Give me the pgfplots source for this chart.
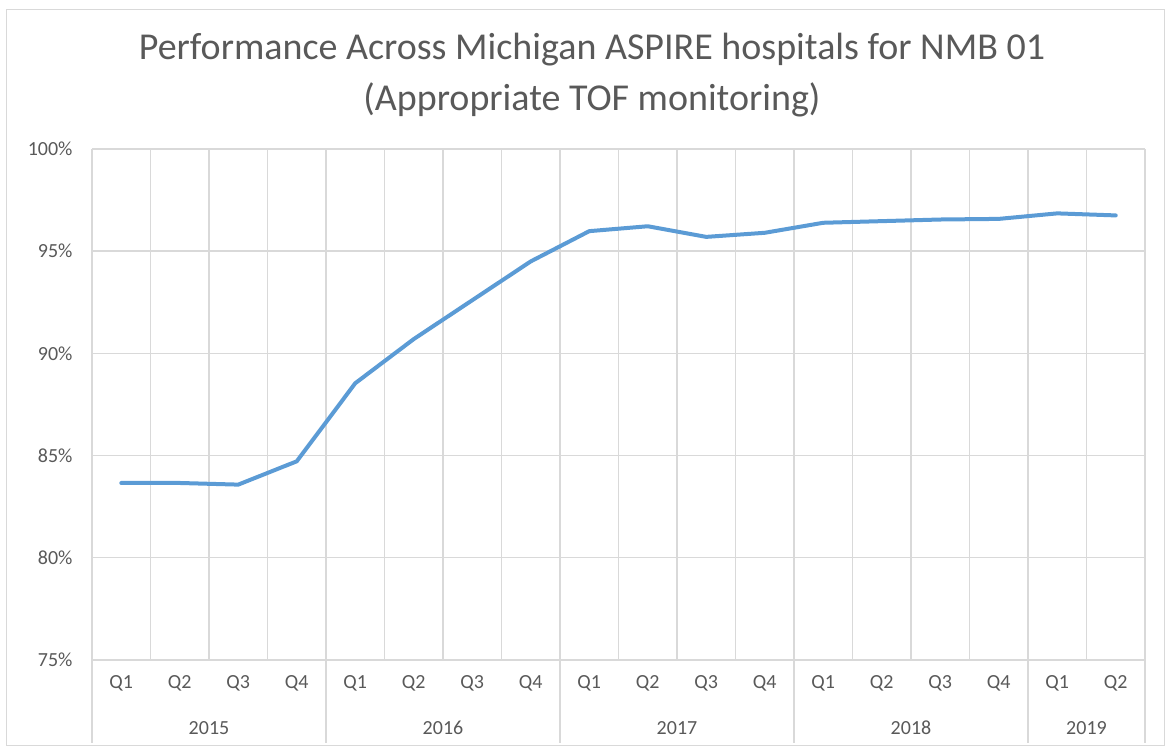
\documentclass[border=0pt]{standalone}
\usepackage{fontspec}
\setmainfont{Carlito}
\usepackage{pgfplots}
\pgfplotsset{compat=1.18}
\definecolor{txt}{HTML}{595959}
\definecolor{grd}{HTML}{D9D9D9}
\definecolor{ln}{HTML}{5B9BD5}
\begin{document}
\begin{tikzpicture}[x=1pt,y=1pt]
\path[use as bounding box] (0,0) rectangle (1170,751);
\draw[grd, line width=1pt] (6,5) rectangle (1164,741);
\node[txt, font=\fontsize{38}{44}\selectfont] at (592,701) {Performance Across Michigan ASPIRE hospitals for NMB 01};
\node[txt, font=\fontsize{38}{44}\selectfont] at (592,651) {(Appropriate TOF monitoring)};
\begin{axis}[
  at={(92pt,91pt)}, anchor=south west,
  scale only axis, width=1053pt, height=511pt,
  xmin=0, xmax=18, ymin=75, ymax=100,
  ytick={75,80,...,100},
  yticklabel={\pgfmathprintnumber{\tick}\%},
  /pgf/number format/assume math mode=true,
  xtick={0.5,1.5,...,17.5},
  xticklabels={Q1,Q2,Q3,Q4,Q1,Q2,Q3,Q4,Q1,Q2,Q3,Q4,Q1,Q2,Q3,Q4,Q1,Q2},
  minor xtick={0,1,...,18},
  xminorgrids=true, ymajorgrids=true, xmajorgrids=false,
  grid style={grd, line width=1.4pt},
  minor grid style={grd, line width=1.4pt},
  axis line style={draw=none},
  major tick style={draw=none}, minor tick style={draw=none},
  tick label style={txt, font=\fontsize{20}{24}\selectfont},
  yticklabel style={xshift=-16pt},
  xticklabel style={yshift=-12pt},
  clip=false,
]
\addplot[ln, line width=4pt, line join=round, line cap=round] coordinates {
(0.5,83.66) (1.5,83.66) (2.5,83.58) (3.5,84.72)
(4.5,88.54) (5.5,90.70) (6.5,92.60) (7.5,94.50)
(8.5,95.98) (9.5,96.22) (10.5,95.70) (11.5,95.90)
(12.5,96.39) (13.5,96.47) (14.5,96.55) (15.5,96.58)
(16.5,96.85) (17.5,96.75)};
\coordinate (s0) at (axis cs:0,75);
\coordinate (s4) at (axis cs:4,75);
\coordinate (s8) at (axis cs:8,75);
\coordinate (s12) at (axis cs:12,75);
\coordinate (s16) at (axis cs:16,75);
\coordinate (s18) at (axis cs:18,75);
\coordinate (y15) at (axis cs:2,75);
\coordinate (y16) at (axis cs:6,75);
\coordinate (y17) at (axis cs:10,75);
\coordinate (y18) at (axis cs:14,75);
\coordinate (y19) at (axis cs:17,75);
\end{axis}
\foreach \s in {s0,s4,s8,s12,s16,s18} {
  \draw[grd, line width=1.4pt] (\s) -- ++(0,-83);
}
\foreach \c/\t in {y15/2015,y16/2016,y17/2017,y18/2018,y19/2019} {
  \node[txt, font=\fontsize{20}{24}\selectfont] at ([yshift=-68pt]\c) {\t};
}
\end{tikzpicture}
\end{document}
